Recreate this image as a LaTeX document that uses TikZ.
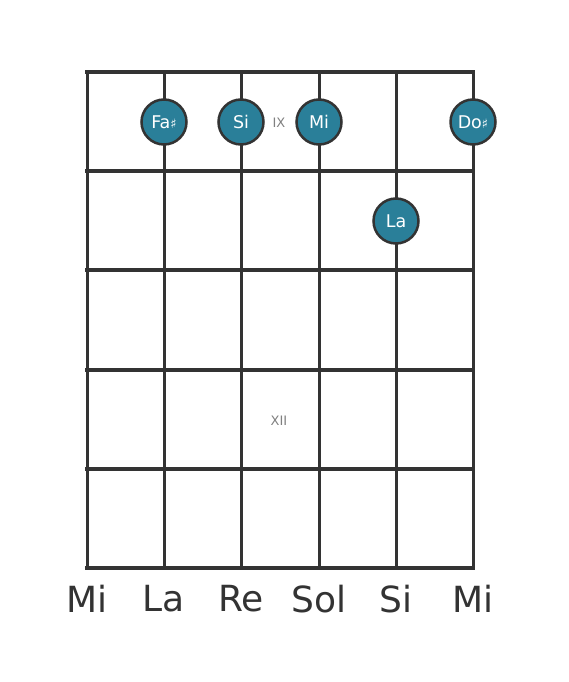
\documentclass[tikz,border=0pt]{standalone}
\usepackage{fontspec}
\setmainfont{DejaVu Sans}
\usepackage{xcolor}
\definecolor{gridgray}{HTML}{333333}
\definecolor{noteteal}{HTML}{2A7F99}
\begin{document}
\begin{tikzpicture}[x=1pt,y=-1pt,
	note/.style={circle,draw=gridgray,line width=2.5pt,fill=noteteal,minimum size=45pt,inner sep=0pt,text=white,font=\fontsize{17.5}{17.5}\selectfont},
	fretlabel/.style={text=gray,font=\fontsize{13}{13}\selectfont},
	stringname/.style={text=gridgray,font=\fontsize{36}{36}\selectfont}]
		\useasboundingbox (0,0) rectangle (568,682);

		% Strings
		\foreach \x in {87,164,241,319,396,473}
			\draw[gridgray,line width=3pt] (\x,72) -- (\x,568);

		% Frets
		\foreach \y in {72,171,270,370,469,568}
			\draw[gridgray,line width=4.5pt] (85,\y) -- (475,\y);

		% Fret numbers
		\node[fretlabel] (ix) at (279,123) {IX};
		\node[fretlabel] (xii) at (279,421) {XII};

		% Notes
		\node[note] (fas) at (164,122) {Fa{\fontsize{13}{13}\selectfont ♯}};
		\node[note] (si) at (241,122) {Si};
		\node[note] (mi) at (319,122) {Mi};
		\node[note] (dos) at (473,122) {Do{\fontsize{13}{13}\selectfont ♯}};
		\node[note] (la) at (396,221) {La};

		% String names
		\node[stringname] (s1) at (87,599) {Mi};
		\node[stringname] (s2) at (164,599) {La};
		\node[stringname] (s3) at (241,599) {Re};
		\node[stringname] (s4) at (319,599) {Sol};
		\node[stringname] (s5) at (396,599) {Si};
		\node[stringname] (s6) at (473,599) {Mi};
\end{tikzpicture}
\end{document}
